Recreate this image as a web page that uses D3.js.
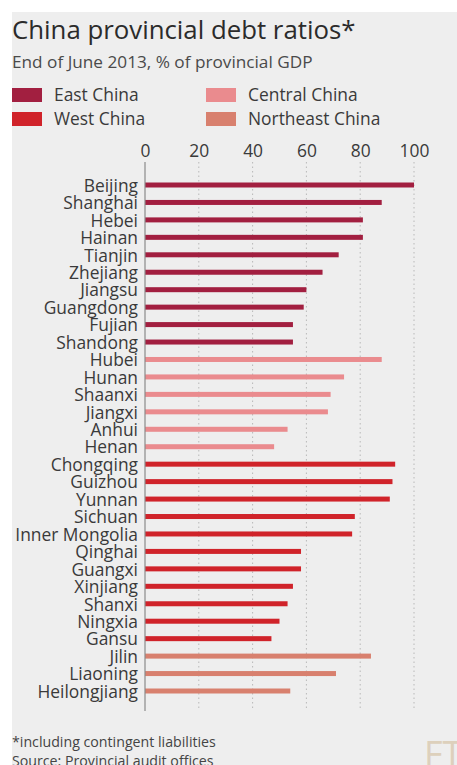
<!DOCTYPE html>
<html>
<head>
<meta charset="utf-8">
<script src="https://cdn.jsdelivr.net/npm/d3@7"></script>
<style>
  html, body { margin: 0; padding: 0; background: #ffffff; }
  svg { display: block; }
  text { font-family: "Open Sans", sans-serif; }
</style>
</head>
<body>
<svg id="chart" width="457" height="765"></svg>
<script>
// Provinces in drawing order, grouped by region
const provinces = [
  "Beijing", "Shanghai", "Hebei", "Hainan", "Tianjin", "Zhejiang", "Jiangsu",
  "Guangdong", "Fujian", "Shandong",
  "Hubei", "Hunan", "Shaanxi", "Jiangxi", "Anhui", "Henan",
  "Chongqing", "Guizhou", "Yunnan", "Sichuan", "Inner Mongolia", "Qinghai",
  "Guangxi", "Xinjiang", "Shanxi", "Ningxia", "Gansu",
  "Jilin", "Liaoning", "Heilongjiang"
];
// Debt as % of provincial GDP, end of June 2013
const debtRatio = [
  100, 88, 81, 81, 72, 66, 60, 59, 55, 55,
  88, 74, 69, 68, 53, 48,
  93, 92, 91, 78, 77, 58, 58, 55, 53, 50, 47,
  84, 71, 54
];
const regionOf = [
  "East China", "East China", "East China", "East China", "East China",
  "East China", "East China", "East China", "East China", "East China",
  "Central China", "Central China", "Central China", "Central China",
  "Central China", "Central China",
  "West China", "West China", "West China", "West China", "West China",
  "West China", "West China", "West China", "West China", "West China",
  "West China",
  "Northeast China", "Northeast China", "Northeast China"
];
const regions = ["East China", "West China", "Central China", "Northeast China"];
const regionColors = ["#a21f40", "#d0232a", "#ea8b8e", "#d8806e"];
const xTicks = [0, 20, 40, 60, 80, 100];

const data = provinces.map((name, i) => ({ name, value: debtRatio[i], region: regionOf[i] }));

const svg = d3.select("#chart");
const W = 457, H = 765;

// panel background
svg.append("rect").attr("x", 12).attr("y", 12).attr("width", W - 12).attr("height", H - 12)
  .attr("fill", "#eeeeee");

// headings
svg.append("text").attr("x", 12).attr("y", 39)
  .attr("font-size", 25.8).attr("fill", "#2b2b2b")
  .text("China provincial debt ratios*");
svg.append("text").attr("x", 12).attr("y", 68)
  .attr("font-size", 17.2).attr("fill", "#4a4a4a")
  .text("End of June 2013, % of provincial GDP");

// legend
const color = d3.scaleOrdinal().domain(regions).range(regionColors);
const legendPos = [
  { x: 12, y: 88 }, { x: 12, y: 112 }, { x: 206, y: 88 }, { x: 206, y: 112 }
];
const legend = svg.append("g").selectAll("g").data(regions).join("g")
  .attr("transform", (d, i) => `translate(${legendPos[i].x},${legendPos[i].y})`);
legend.append("rect").attr("width", 30).attr("height", 14).attr("fill", d => color(d));
legend.append("text").attr("x", 42).attr("y", 12.5)
  .attr("font-size", 17.4).attr("fill", "#3a3a3a").text(d => d);

// scales
const x = d3.scaleLinear().domain([0, 100]).range([145, 414]);
const y = d3.scalePoint().domain(provinces).range([185, 691]);
const barH = 5;

// gridlines
svg.append("g").selectAll("line").data(xTicks.filter(t => t > 0)).join("line")
  .attr("x1", d => x(d)).attr("x2", d => x(d))
  .attr("y1", 162).attr("y2", 711)
  .attr("stroke", "#b8b8b8").attr("stroke-width", 1)
  .attr("stroke-dasharray", "1.5,3");

// top axis labels
const xAxis = d3.axisTop(x).tickValues(xTicks).tickSize(0).tickPadding(0);
const ax = svg.append("g").attr("transform", "translate(0,157)").call(xAxis);
ax.select(".domain").remove();
ax.selectAll("text").attr("font-size", 17.4).attr("fill", "#3a3a3a")
  .attr("font-family", "'Open Sans', sans-serif").attr("dy", 0);

// bars
svg.append("g").selectAll("rect").data(data).join("rect")
  .attr("x", x(0))
  .attr("y", d => y(d.name) - barH / 2)
  .attr("width", d => x(d.value) - x(0))
  .attr("height", barH)
  .attr("fill", d => color(d.region));

// vertical baseline
svg.append("line").attr("x1", x(0)).attr("x2", x(0)).attr("y1", 162).attr("y2", 711)
  .attr("stroke", "#8a8a8a").attr("stroke-width", 1.2);

// category labels
const yAxis = d3.axisLeft(y).tickSize(0).tickPadding(7);
const ay = svg.append("g").attr("transform", `translate(${x(0)},0)`).call(yAxis);
ay.select(".domain").remove();
ay.selectAll("text").attr("font-size", 17.4).attr("fill", "#3a3a3a")
  .attr("font-family", "'Open Sans', sans-serif").attr("dy", "0.36em");

// footnotes
svg.append("text").attr("x", 12).attr("y", 747)
  .attr("font-size", 14.2).attr("fill", "#444").text("*including contingent liabilities");
svg.append("text").attr("x", 12).attr("y", 766)
  .attr("font-size", 14.2).attr("fill", "#444").text("Source: Provincial audit offices");

// masthead mark
svg.append("text").attr("x", 424).attr("y", 767)
  .attr("font-family", "'Liberation Serif', serif").attr("font-size", 36)
  .attr("fill", "#ddd0bc").text("FT");
</script>
</body>
</html>
